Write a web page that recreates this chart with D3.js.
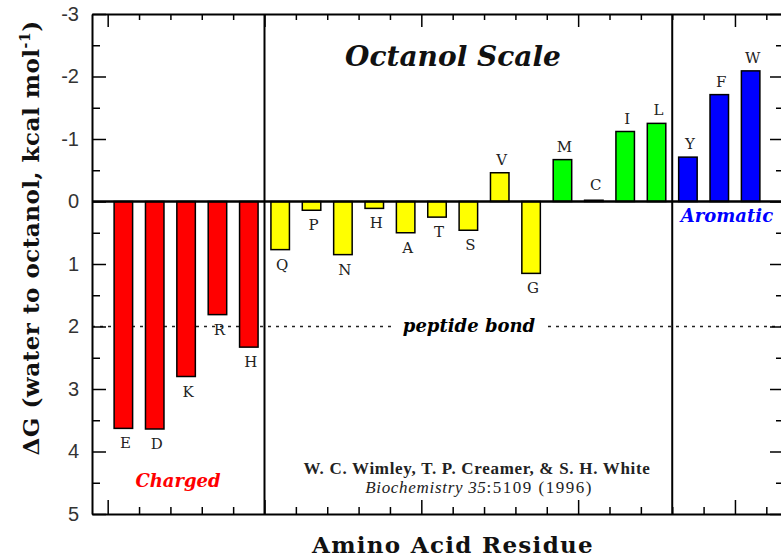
<!doctype html>
<html>
  <head>
    <meta charset="utf-8" />
    <title>Octanol Scale</title>
    <script src="https://cdn.jsdelivr.net/npm/d3@7/dist/d3.min.js"></script>
    <style>
      body{margin:0;padding:0;background:#fff;}
      svg{display:block;}
    </style>
  </head>
  <body>
<script>

  // residues in plot order, with their water->octanol free energies (kcal/mol)
  var residues = ["E","D","K","R","H","Q","P","N","H","A","T","S","V","G","M","C","I","L","Y","F","W"];
  var dG       = [3.63,3.64,2.80,1.81,2.33,0.77,0.14,0.85,0.11,0.50,0.25,0.46,-0.46,1.15,-0.67,-0.02,-1.12,-1.25,-0.71,-1.71,-2.09];
  // 0 = charged, 1 = polar/small, 2 = hydrophobic, 3 = aromatic
  var groupOf  = [0,0,0,0,0,1,1,1,1,1,1,1,1,1,2,2,2,2,3,3,3];
  // section boundaries (between H|Q and L|Y)
  var sections = [5, 18];
  var yTicks   = [-3,-2,-1,0,1,2,3,4,5];
  var peptideBond = 2;

  var groupColors = ["#ff0000","#ffff00","#00ff00","#0000ff"];

  var width = 781, height = 559;
  // plot box (right edge falls just outside the picture)
  var mLeft = 92, mRight = 782, mTop = 14, mBottom = 514;

  var svg = d3.select("body").append("svg").attr("width",width).attr("height",height);

  var x = d3.scaleLinear().domain([-0.5, residues.length+0.5]).range([mLeft,mRight]);
  var y = d3.scaleLinear().domain([-3,5]).range([mTop,mBottom]);
  var barW = (x(1)-x(0))*0.59;

  var boundaries = d3.range(0, residues.length+1);
  var majorX = boundaries.filter(function(d){ return d%5==0; });
  var minorX = boundaries.filter(function(d){ return d%5!=0; });
  var minorY = yTicks.slice(0,-1).map(function(d){ return d+0.5; });

  // dashed peptide bond line (under bars)
  svg.append("line")
    .attr("x1",mLeft).attr("x2",mRight).attr("y1",y(peptideBond)).attr("y2",y(peptideBond))
    .attr("stroke","#222").attr("stroke-width",1.5).attr("stroke-dasharray","3,5");

  // section dividers
  svg.selectAll(".divider").data(sections).enter().append("line").attr("class","divider")
    .attr("x1",function(d){ return x(d); }).attr("x2",function(d){ return x(d); })
    .attr("y1",mTop).attr("y2",mBottom)
    .attr("stroke","#000").attr("stroke-width",2);

  // bars
  svg.selectAll(".bar").data(dG).enter().append("rect").attr("class","bar")
    .attr("x",function(d,i){ return x(i+0.5)-barW/2; })
    .attr("y",function(d){ return y(Math.min(d,0)); })
    .attr("width",barW)
    .attr("height",function(d){ return Math.abs(y(d)-y(0)); })
    .attr("fill",function(d,i){ return groupColors[groupOf[i]]; })
    .attr("stroke","#000").attr("stroke-width",1.5);

  // residue letters
  svg.selectAll(".res").data(dG).enter().append("text").attr("class","res")
    .attr("x",function(d,i){ return x(i+0.5)+2; })
    .attr("y",function(d){ return d>0 ? y(d)+20 : Math.min(y(d),y(0)-4)-8; })
    .attr("text-anchor","middle")
    .style("font-family","'DejaVu Serif',serif")
    .style("font-size","15px").attr("fill","#222")
    .text(function(d,i){ return residues[i]; });

  // zero line
  svg.append("line")
    .attr("x1",mLeft).attr("x2",mRight).attr("y1",y(0)).attr("y2",y(0))
    .attr("stroke","#000").attr("stroke-width",2.5);

  // axes
  function styleAxis(g){
    g.selectAll("path").attr("stroke","#000").attr("stroke-width",2);
    g.selectAll("line").attr("stroke","#000").attr("stroke-width",1.5);
  }
  svg.append("g").attr("transform","translate("+mLeft+",0)")
    .call(d3.axisLeft(y).tickValues(yTicks).tickSize(-14).tickSizeOuter(0).tickPadding(13)
      .tickFormat(function(d){ return String(d); }))
    .call(styleAxis)
    .call(function(g){
      g.selectAll("text").style("font-family","'Liberation Sans',Arial,sans-serif")
        .style("font-size","20px").attr("fill","#333");
    });
  svg.append("g").attr("transform","translate("+mLeft+",0)")
    .call(d3.axisLeft(y).tickValues(minorY).tickSize(-8).tickFormat(""))
    .call(styleAxis).call(function(g){ g.select("path").remove(); });

  svg.append("g").attr("transform","translate("+mRight+",0)")
    .call(d3.axisRight(y).tickValues(yTicks).tickSize(-12).tickSizeOuter(0).tickFormat(""))
    .call(styleAxis);
  svg.append("g").attr("transform","translate("+mRight+",0)")
    .call(d3.axisRight(y).tickValues(minorY).tickSize(-6).tickFormat(""))
    .call(styleAxis).call(function(g){ g.select("path").remove(); });

  svg.append("g").attr("transform","translate(0,"+mBottom+")")
    .call(d3.axisBottom(x).tickValues(majorX).tickSize(-14).tickSizeOuter(0).tickFormat(""))
    .call(styleAxis);
  svg.append("g").attr("transform","translate(0,"+mBottom+")")
    .call(d3.axisBottom(x).tickValues(minorX).tickSize(-7).tickFormat(""))
    .call(styleAxis).call(function(g){ g.select("path").remove(); });

  svg.append("g").attr("transform","translate(0,"+mTop+")")
    .call(d3.axisTop(x).tickValues(majorX).tickSize(-13).tickSizeOuter(0).tickFormat(""))
    .call(styleAxis);
  svg.append("g").attr("transform","translate(0,"+mTop+")")
    .call(d3.axisTop(x).tickValues(minorX).tickSize(-6).tickFormat(""))
    .call(styleAxis).call(function(g){ g.select("path").remove(); });

  // peptide bond label with white gap
  svg.append("rect").attr("x",392).attr("y",y(peptideBond)-6).attr("width",156).attr("height",12).attr("fill","#fff");
  svg.append("text").attr("x",469).attr("y",y(peptideBond)+5).attr("text-anchor","middle")
    .style("font-family","'DejaVu Serif',serif").style("font-weight","bold").style("font-style","italic")
    .style("font-size","18px").text("peptide bond");

  // title and group labels
  svg.append("text").attr("x",453).attr("y",66).attr("text-anchor","middle")
    .style("font-family","'DejaVu Serif',serif").style("font-weight","bold").style("font-style","italic")
    .style("font-size","28px").attr("fill","#111").text("Octanol Scale");
  svg.append("text").attr("x",178).attr("y",487).attr("text-anchor","middle")
    .style("font-family","'DejaVu Serif',serif").style("font-weight","bold").style("font-style","italic")
    .style("font-size","18px").attr("fill","#ff0000").text("Charged");
  svg.append("text").attr("x",727).attr("y",222).attr("text-anchor","middle")
    .style("font-family","'DejaVu Serif',serif").style("font-weight","bold").style("font-style","italic")
    .style("font-size","18px").attr("fill","#0000ff").text("Aromatic");

  // citation
  var cite = svg.append("g").style("font-family","'Liberation Serif','Times New Roman',serif")
    .attr("fill","#222").style("letter-spacing","0.7px");
  cite.append("text").attr("x",477).attr("y",474).attr("text-anchor","middle")
    .style("font-size","17px").style("font-weight","bold").text("W. C. Wimley, T. P. Creamer, & S. H. White");
  var c2 = cite.append("text").attr("x",479).attr("y",493).attr("text-anchor","middle").style("font-size","17px");
  c2.append("tspan").style("font-style","italic").text("Biochemistry 35");
  c2.append("tspan").style("letter-spacing","1.5px").text(":5109 (1996)");

  // axis titles
  svg.append("text").attr("x",453).attr("y",553).attr("text-anchor","middle")
    .style("font-family","'DejaVu Serif',serif").style("font-weight","bold").style("font-size","23px")
    .style("letter-spacing","1.3px").attr("fill","#111").text("Amino Acid Residue");

  var yt = svg.append("text").attr("transform","translate(39,238) rotate(-90)").attr("text-anchor","middle")
    .style("font-family","'DejaVu Serif',serif").style("font-weight","bold").style("font-size","23px")
    .style("letter-spacing","0.5px").attr("fill","#111");
  yt.append("tspan").text("\u0394G (water to octanol, kcal mol");
  yt.append("tspan").attr("dy",-9).style("font-size","14px").text("-1");
  yt.append("tspan").attr("dy",9).text(")");

</script>
  </body>
</html>
